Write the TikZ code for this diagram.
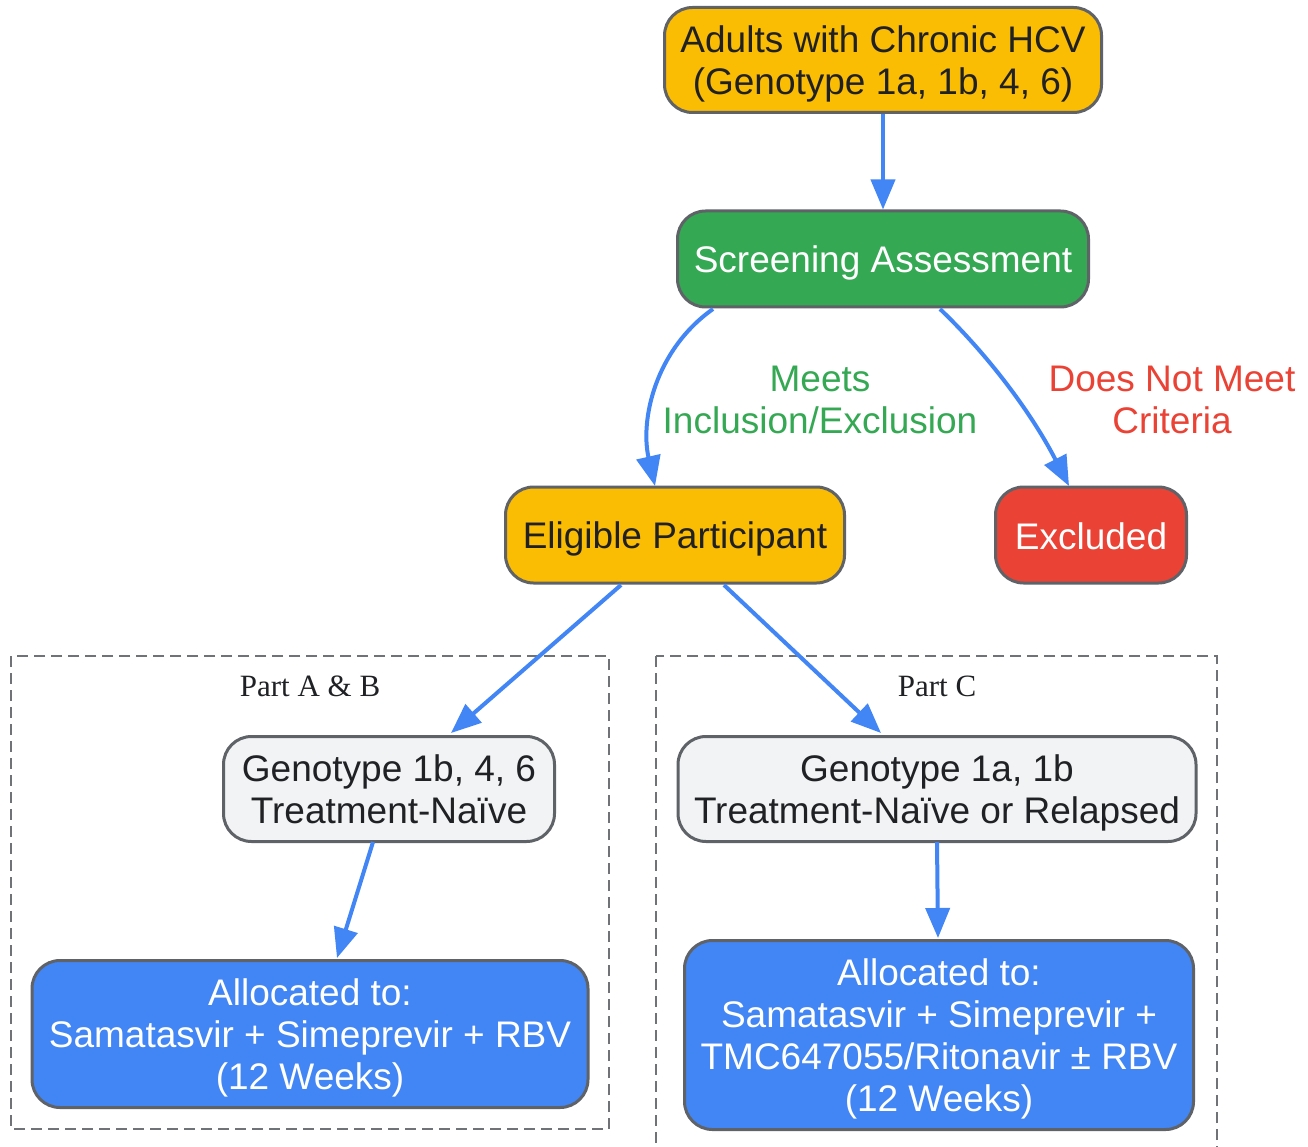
\documentclass[tikz,border=0pt]{standalone}
\usepackage{fontspec}
\setmainfont{Liberation Sans}
\newfontfamily\seriffont{Liberation Serif}
\usetikzlibrary{arrows.meta}
\definecolor{gyellow}{HTML}{FBBC04}
\definecolor{ggreen}{HTML}{34A853}
\definecolor{gred}{HTML}{EA4335}
\definecolor{gblue}{HTML}{4285F4}
\definecolor{glight}{HTML}{F1F3F4}
\definecolor{gborder}{HTML}{5F6368}
\definecolor{gtext}{HTML}{202124}
\begin{document}
\begin{tikzpicture}[x=1pt,y=-1pt,
  box/.style={draw=gborder,line width=3pt,rounded corners=28pt,inner sep=0pt,align=center,
    text depth=0pt,font=\fontsize{37}{42}\selectfont},
  ybox/.style={box,fill=gyellow,text=gtext},
  gbox/.style={box,fill=ggreen,text=white},
  rbox/.style={box,fill=gred,text=white},
  lbox/.style={box,fill=glight,text=gtext},
  bbox/.style={box,fill=gblue,text=white},
  edge/.style={draw=gblue,line width=4pt,-{Triangle[length=30pt,width=24pt]}},
  elabel/.style={align=center,inner sep=0pt,font=\fontsize{37}{42}\selectfont},
  cluster/.style={draw=gborder!90,line width=2pt,dash pattern=on 11pt off 6pt},
  clabel/.style={inner sep=0pt,font=\seriffont\fontsize{31}{36}\selectfont,text=gtext}
]
\useasboundingbox (0,0) rectangle (1308,1147);
\clip (0,0) rectangle (1308,1147);
\fill[white] (0,0) rectangle (1308,1147);

% clusters
\draw[cluster] (11,656) rectangle (609,1129);
\draw[cluster] (656,656) rectangle (1217,1170);
\node[clabel] (labAB) at (310,686) {Part A \& B};
\node[clabel] (labC) at (937,686) {Part C};

% nodes
\node[ybox,minimum width=437pt,minimum height=105pt] (adults) at (883,60) {Adults with Chronic HCV\\(Genotype 1a, 1b, 4, 6)};
\node[gbox,minimum width=411pt,minimum height=96pt] (screen) at (883,259) {Screening Assessment};
\node[ybox,minimum width=339pt,minimum height=96pt] (elig) at (675,535) {Eligible Participant};
\node[rbox,minimum width=191pt,minimum height=96pt] (excl) at (1091,535) {\raisebox{-2pt}{Excluded}};
\node[lbox,minimum width=331pt,minimum height=105pt] (gAB) at (389,789) {Genotype 1b, 4, 6\\Treatment-Naïve};
\node[lbox,minimum width=518pt,minimum height=105pt] (gC) at (937,789) {Genotype 1a, 1b\\Treatment-Naïve or Relapsed};
\node[bbox,minimum width=556pt,minimum height=147pt] (allocAB) at (310,1034) {Allocated to:\\Samatasvir + Simeprevir + RBV\\(12 Weeks)};
\node[bbox,minimum width=509pt,minimum height=189pt] (allocC) at (939,1035) {Allocated to:\\Samatasvir + Simeprevir +\\TMC647055/Ritonavir ± RBV\\(12 Weeks)};

% edge anchors
\coordinate (s1) at (713,309);
\coordinate (e1) at (655,486);
\coordinate (s2) at (940,309);
\coordinate (e2) at (1069,486);
\coordinate (s3) at (621,585);
\coordinate (e3) at (451,733);
\coordinate (s4) at (724,585);
\coordinate (e4) at (881,733);
\coordinate (s5) at (373,842);
\coordinate (e5) at (337,958);
\coordinate (s6) at (937,842);
\coordinate (e6) at (938,938);

% edges
\draw[edge] (adults.south) -- (screen.north);
\draw[edge] (s1) .. controls (655,350) and (640,420) .. (e1);
\draw[edge] (s2) .. controls (985,352) and (1030,410) .. (e2);
\draw[edge] (s3) -- (e3);
\draw[edge] (s4) -- (e4);
\draw[edge] (s5) -- (e5);
\draw[edge] (s6) -- (e6);

% edge labels
\node[elabel,text=ggreen] (lmeet) at (820,400) {Meets\\Inclusion/Exclusion};
\node[elabel,text=gred] (lnot) at (1172,400) {Does Not Meet\\Criteria};
\end{tikzpicture}
\end{document}
